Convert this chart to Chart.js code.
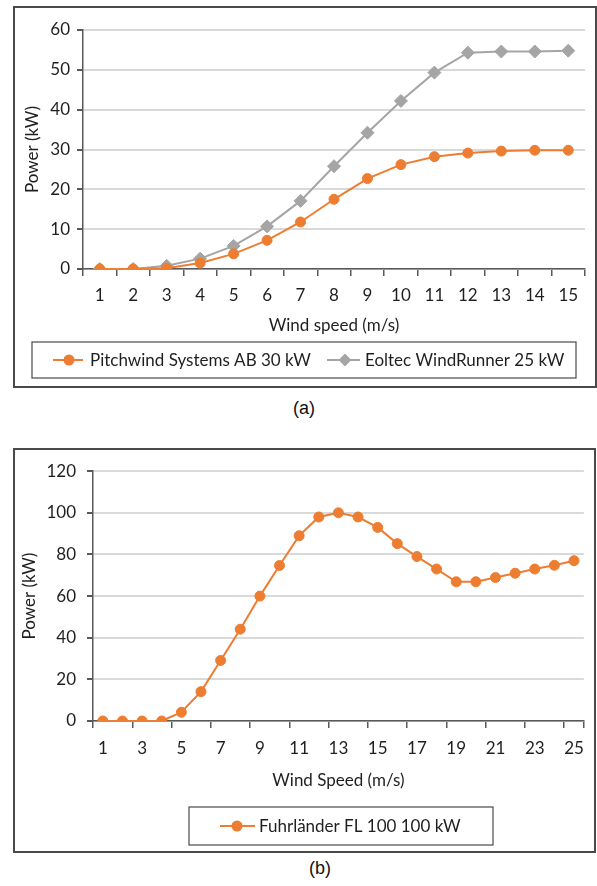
<!DOCTYPE html>
<html>
<head>
<meta charset="utf-8">
<script src="https://cdn.jsdelivr.net/npm/chart.js@4.4.1/dist/chart.umd.min.js"></script>
<style>
  body { margin: 0; background: #fff; width: 597px; height: 886px; position: relative; overflow: hidden; }
  .box { position: absolute; border: 2px solid #4a4a4a; box-sizing: border-box; background: #fff; }
  .box canvas { display: block; }
  .cap { position: absolute; font-family: "Liberation Sans", Arial, sans-serif; font-size: 18px; color: #111; transform: translate(-50%, -50%); }
</style>
</head>
<body>

<div class="box" id="boxA" style="left:13px; top:6px; width:584px; height:382px;">
  <canvas id="graficoA" width="580" height="378"></canvas>
</div>
<div class="cap" style="left:304px; top:408px;">(a)</div>

<div class="box" id="boxB" style="left:13px; top:448px; width:583px; height:405px;">
  <canvas id="graficoB" width="579" height="401"></canvas>
</div>
<div class="cap" style="left:320px; top:868px;">(b)</div>

<script>
// dados
var velocidadeA = [1, 2, 3, 4, 5, 6, 7, 8, 9, 10, 11, 12, 13, 14, 15];
var potenciaPitchwind = [0, 0, 0.2, 1.5, 3.8, 7.2, 11.8, 17.5, 22.7, 26.2, 28.2, 29.1, 29.6, 29.8, 29.8];
var potenciaEoltec = [0, 0, 0.8, 2.6, 5.8, 10.7, 17.1, 25.8, 34.2, 42.2, 49.3, 54.3, 54.6, 54.6, 54.8];

var velocidadeB = [1, 2, 3, 4, 5, 6, 7, 8, 9, 10, 11, 12, 13, 14, 15, 16, 17, 18, 19, 20, 21, 22, 23, 24, 25];
var potenciaFuhrlander = [0, 0, 0, 0, 4.2, 14.1, 29.1, 44.1, 60, 74.7, 89, 98, 100, 98, 93, 85.2, 79, 73, 66.9, 66.9, 68.9, 71, 73, 74.8, 77];

var ticksYA = [0, 10, 20, 30, 40, 50, 60];
var ticksYB = [0, 20, 40, 60, 80, 100, 120];

var laranja = '#ED7D31';
var cinza = '#A5A5A5';
var corTexto = '#1f1f1f';
var corEixo = '#595959';
var fonte = 'Lato, "Open Sans", sans-serif';
var tamFonte = 17;

Chart.defaults.font.family = fonte;
Chart.defaults.font.size = tamFonte;
Chart.defaults.color = corTexto;

// desenha a caixa da legenda com linha + marcador, como no Excel
const legendaCaixa = {
    id: 'legendaCaixa',
    afterDraw(chart, args, opts) {
        var ctx = chart.ctx;
        ctx.save();
        ctx.strokeStyle = '#4a4a4a';
        ctx.lineWidth = 1.2;
        ctx.strokeRect(opts.x, opts.y, opts.w, opts.h);
        var meioY = opts.y + opts.h / 2;
        chart.data.datasets.forEach(function (ds, i) {
            var it = opts.itens[i];
            ctx.strokeStyle = ds.borderColor;
            ctx.lineWidth = 2;
            ctx.beginPath();
            ctx.moveTo(it.de, meioY);
            ctx.lineTo(it.ate, meioY);
            ctx.stroke();
            ctx.fillStyle = ds.backgroundColor;
            ctx.strokeStyle = ds.borderColor;
            Chart.helpers.drawPoint(ctx, {
                pointStyle: ds.pointStyle,
                radius: it.raio,
                rotation: 0,
                borderWidth: 1
            }, it.marca, meioY);
            ctx.fillStyle = corTexto;
            ctx.font = tamFonte + 'px ' + fonte;
            ctx.textBaseline = 'middle';
            ctx.textAlign = 'left';
            ctx.fillText(ds.label, it.texto, meioY + 1);
        });
        ctx.restore();
    }
};

function eixoY(ticks, largura, padTitulo, padTick) {
    return {
        min: ticks[0],
        max: ticks[ticks.length - 1],
        afterFit: function (scale) { scale.width = largura; },
        afterBuildTicks: function (scale) {
            scale.ticks = ticks.map(function (v) { return { value: v }; });
        },
        ticks: { padding: padTick, color: corTexto, font: { size: tamFonte } },
        grid: {
            color: '#d9d9d9',
            lineWidth: 2,
            tickColor: corEixo,
            tickLength: 6
        },
        border: { display: true, color: corEixo, width: 1.5 },
        title: {
            display: true,
            text: 'Power (kW)',
            color: corTexto,
            font: { size: tamFonte },
            padding: { top: padTitulo, bottom: 0 }
        }
    };
}

function eixoX(titulo, altura, padTick, pular) {
    return {
        type: 'category',
        offset: true,
        afterFit: function (scale) { scale.height = altura; },
        ticks: {
            autoSkip: false,
            maxRotation: 0,
            padding: padTick,
            color: corTexto,
            font: { size: tamFonte },
            callback: function (val, i) {
                if (pular && i % 2 === 1) return '';
                return this.getLabelForValue(val);
            }
        },
        grid: {
            offset: true,
            drawOnChartArea: false,
            tickLength: 7,
            lineWidth: 1.5,
            tickColor: function (c) {
                if (pular && c.index % 2 === 1) return 'rgba(0,0,0,0)';
                return corEixo;
            }
        },
        border: { display: true, color: corEixo, width: 1.5 },
        title: {
            display: true,
            text: titulo,
            color: corTexto,
            font: { size: tamFonte },
            padding: { top: 0, bottom: 0 }
        }
    };
}

let GraficoA = new Chart(document.getElementById('graficoA'), {
    type: 'line',
    data: {
        labels: velocidadeA,
        datasets: [{
            label: 'Pitchwind Systems AB 30 kW',
            data: potenciaPitchwind,
            borderColor: laranja,
            backgroundColor: laranja,
            borderWidth: 2,
            pointStyle: 'circle',
            pointRadius: 5,
            pointBorderWidth: 1,
            tension: 0
        }, {
            label: 'Eoltec WindRunner 25 kW',
            data: potenciaEoltec,
            borderColor: cinza,
            backgroundColor: cinza,
            borderWidth: 2,
            pointStyle: 'rectRot',
            pointRadius: 6.5,
            pointBorderWidth: 1,
            tension: 0
        }]
    },
    options: {
        responsive: false,
        animation: false,
        devicePixelRatio: 1,
        layout: { padding: { top: 22, right: 10, left: 0, bottom: 50 } },
        scales: {
            x: eixoX('Wind speed (m/s)', 67, 9, false),
            y: eixoY(ticksYA, 68, 7, 7)
        },
        plugins: {
            legend: { display: false },
            tooltip: { enabled: false },
            legendaCaixa: {
                x: 17, y: 334, w: 544, h: 36,
                itens: [
                    { de: 38, ate: 68, marca: 54, raio: 4.5, texto: 75 },
                    { de: 312, ate: 345, marca: 330, raio: 5, texto: 350 }
                ]
            }
        }
    },
    plugins: [legendaCaixa]
});

let GraficoB = new Chart(document.getElementById('graficoB'), {
    type: 'line',
    data: {
        labels: velocidadeB,
        datasets: [{
            label: 'Fuhrländer FL 100 100 kW',
            data: potenciaFuhrlander,
            borderColor: laranja,
            backgroundColor: laranja,
            borderWidth: 2,
            pointStyle: 'circle',
            pointRadius: 5,
            pointBorderWidth: 1,
            tension: 0
        }]
    },
    options: {
        responsive: false,
        animation: false,
        devicePixelRatio: 1,
        layout: { padding: { top: 15, right: 6, left: 0, bottom: 60 } },
        scales: {
            x: eixoX('Wind Speed (m/s)', 70, 10, true),
            y: eixoY(ticksYB, 78, 4, 11)
        },
        plugins: {
            legend: { display: false },
            tooltip: { enabled: false },
            legendaCaixa: {
                x: 174, y: 357, w: 304, h: 38,
                itens: [
                    { de: 205, ate: 240, marca: 222, raio: 4.5, texto: 244 }
                ]
            }
        }
    },
    plugins: [legendaCaixa]
});
</script>
</body>
</html>
